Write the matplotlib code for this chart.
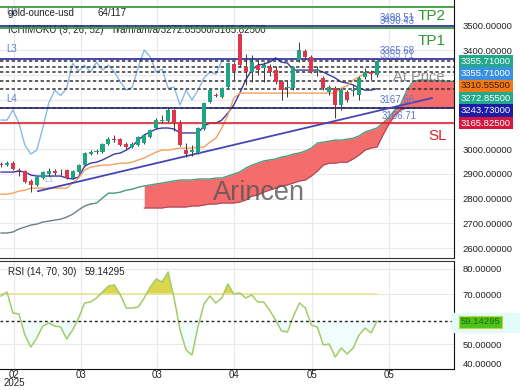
import matplotlib
matplotlib.use("Agg")
import matplotlib.pyplot as plt
from matplotlib.patches import Rectangle
import numpy as np

plt.rcParams['font.family'] = ['Liberation Sans', 'DejaVu Sans']

# daily candles (price units)
opens = [2939, 2935, 2943, 2915, 2911, 2871, 2855, 2883, 2899, 2911, 2907, 2915, 2883, 2907, 2935, 2980,
         2988, 2988, 3020, 3040, 3040, 3020, 3008, 3016, 3024, 3048, 3085, 3113, 3113, 3158, 3105, 2996,
         2988, 2984, 3081, 3190, 3218, 3210, 3250, 3343, 3465, 3331, 3311, 3339, 3327, 3331, 3319, 3271,
         3246, 3246, 3360, 3396, 3372, 3315, 3287, 3230, 3246, 3178, 3230, 3234, 3218, 3291, 3311, 3299]
highs = [2947, 2952, 2952, 2923, 2915, 2879, 2891, 2911, 2923, 2919, 2919, 2919, 2915, 2939, 2988, 2996,
         3000, 3024, 3048, 3057, 3044, 3028, 3028, 3053, 3061, 3081, 3125, 3137, 3166, 3162, 3117, 3024,
         3016, 3089, 3190, 3242, 3226, 3250, 3351, 3351, 3469, 3384, 3380, 3360, 3351, 3343, 3335, 3279,
         3279, 3335, 3432, 3404, 3380, 3335, 3295, 3259, 3255, 3246, 3238, 3259, 3295, 3327, 3319, 3356]
lows = [2927, 2931, 2915, 2891, 2863, 2826, 2851, 2879, 2891, 2895, 2895, 2879, 2879, 2903, 2931, 2976,
        2980, 2984, 3016, 3028, 3012, 3000, 3004, 3012, 3020, 3044, 3081, 3105, 3109, 3073, 3012, 2968,
        2972, 2980, 3077, 3186, 3210, 3206, 3246, 3279, 3331, 3259, 3271, 3299, 3271, 3295, 3263, 3198,
        3210, 3238, 3351, 3360, 3307, 3295, 3238, 3218, 3125, 3158, 3190, 3214, 3198, 3283, 3279, 3291]
closes = [2935, 2943, 2919, 2911, 2867, 2855, 2887, 2907, 2911, 2903, 2906, 2883, 2911, 2935, 2984, 2988,
          2992, 3020, 3040, 3036, 3016, 3008, 3020, 3048, 3057, 3077, 3117, 3117, 3158, 3105, 3016, 2980,
          2996, 3085, 3186, 3238, 3216, 3246, 3347, 3315, 3339, 3311, 3351, 3319, 3339, 3311, 3271, 3238,
          3250, 3331, 3400, 3372, 3311, 3323, 3246, 3250, 3178, 3238, 3198, 3238, 3287, 3311, 3303, 3355.71]

# ichimoku lines
tenkan = [2907, 2907, 2907, 2911, 2907, 2895, 2891, 2891, 2891, 2891, 2891, 2883, 2879, 2887, 2931, 2943,
          2947, 2956, 2968, 2980, 2984, 2996, 3012, 3036, 3057, 3069, 3081, 3085, 3085, 3081, 3065, 3065,
          3065, 3065, 3093, 3105, 3105, 3117, 3145, 3178, 3226, 3279, 3319, 3339, 3343, 3351, 3368, 3351,
          3347, 3319, 3319, 3319, 3319, 3319, 3311, 3299, 3287, 3271, 3267, 3259, 3246, 3238, 3238, 3243.73]
kijun = [2818, 2818, 2822, 2830, 2834, 2842, 2842, 2842, 2842, 2842, 2842, 2842, 2863, 2883, 2915, 2927,
         2931, 2935, 2935, 2939, 2943, 2943, 2947, 2956, 2964, 2976, 2988, 2996, 2996, 3000, 3004, 3004,
         3004, 3008, 3008, 3028, 3044, 3085, 3137, 3206, 3226, 3226, 3226, 3226, 3226, 3226, 3226, 3226,
         3226, 3226, 3226, 3226, 3226, 3226, 3226, 3226, 3226, 3246, 3255, 3279, 3291, 3305, 3310, 3310.555]
span_a = [2661, 2661, 2665, 2677, 2685, 2693, 2697, 2705, 2709, 2713, 2717, 2725, 2737, 2754, 2770, 2778,
          2782, 2802, 2822, 2822, 2826, 2834, 2838, 2846, 2851, 2855, 2859, 2863, 2867, 2871, 2875, 2875,
          2875, 2879, 2879, 2879, 2883, 2883, 2891, 2899, 2907, 2923, 2935, 2943, 2952, 2956, 2960, 2968,
          2972, 2980, 2984, 2992, 3004, 3024, 3028, 3032, 3036, 3036, 3040, 3044, 3053, 3069, 3077, 3085,
          3105, 3129, 3158, 3182, 3238, 3271, 3279, 3279, 3278, 3276, 3275, 3274, 3272.855]
span_b_start = 24
span_b = [2762, 2762, 2762, 2762, 2766, 2766, 2766, 2766, 2770, 2770, 2774, 2778, 2778, 2782, 2782, 2782,
          2786, 2794, 2810, 2814, 2826, 2834, 2842, 2851, 2855, 2863, 2871, 2875, 2891, 2911, 2935, 2943,
          2943, 2947, 2947, 2960, 2976, 2996, 3004, 3008, 3057, 3101, 3137, 3158, 3166, 3166, 3166, 3166,
          3166, 3166, 3166, 3166, 3165.825]

rsi = [69.2, 70.8, 62.4, 62.0, 53.6, 48.8, 52.4, 57.2, 58.4, 57.2, 56.8, 52.0, 55.6, 60.4, 66.4, 66.8,
       68.4, 70.8, 73.2, 73.6, 69.6, 64.4, 64.4, 64.8, 68.4, 72.8, 76.0, 74.8, 78.8, 68.4, 55.6, 47.6,
       45.6, 56.8, 66.0, 69.2, 66.4, 68.4, 74.0, 70.0, 70.4, 68.4, 69.6, 66.8, 66.8, 63.6, 59.6, 55.2,
       54.8, 61.2, 66.4, 64.4, 57.6, 56.8, 49.6, 50.0, 44.8, 48.4, 46.0, 48.4, 53.6, 56.4, 54.4, 59.14295]

# horizontal levels
navy_levels = [3498.51, 3365.68, 3167.56]
navy_labels = ['3498.51', '3365.68', '3167.56']
green_levels = [3575.0, 3490.43]
dashed_levels = [3355.71, 3331.0, 3310.555, 3272.855, 3243.73, 3165.825]
sl_level = 3106.71
trend_x = [6.2, 72.2]
trend_y = [2830, 3206]

tick_pos = [2.2, 13.4, 26.1, 39.0, 52.1, 65.0]
tick_labels = ['02', '03', '03', '04', '05', '05']
year_label = '2025'
price_ticks = [2600, 2700, 2800, 2900, 3000, 3100, 3200, 3300, 3400, 3500]
hidden_ticks = [3100, 3200, 3300]
rsi_ticks = [40, 50, 70, 80]

box_values = ['3355.71000', '3355.71000', '3310.55500', '3272.85500', '3243.73000', '3165.82500']
box_colors = ['#22a88a', '#3b8fe0', '#f07a1a', '#22a88a', '#1c1ca8', '#d5173f']
box_text = ['white', 'white', '#3a1a00', 'white', 'white', 'white']

TEAL = '#1fa582'
RED = '#e1354b'
NAVY = '#25259e'
BLUE_TXT = '#5a78d2'

W, H = 520, 390


def fx(x):
    return x / W


def fy(y):
    return 1 - y / H


fig = plt.figure(figsize=(5.2, 3.9), dpi=100)
ax = fig.add_axes([0, fy(258), fx(454), 258 / H])
rax = fig.add_axes([0, fy(369), fx(454), (369 - 261) / H], sharex=ax)

idx = np.arange(len(closes))
o = np.array(opens, dtype=float)
c = np.array(closes, dtype=float)

# header texts sit under the level lines
hdr = dict(transform=fig.transFigure, fontsize=7, va='center', zorder=2.5, clip_on=False)
ax.text(fx(6), fy(11), 'L0', color=BLUE_TXT, **hdr)
ax.text(fx(8), fy(13), 'gold-ounce-usd', color='#222222', **hdr)
ax.text(fx(97), fy(13), '64/117', color='#222222', **hdr)
ax.text(fx(8), fy(30), 'ICHIMOKU (9, 26, 52)', color='#222222', **hdr)
ax.text(fx(112), fy(30), 'n/a/n/a/n/a/3272.85500/3165.82500', color='#222222', **hdr)
ax.text(fx(6), fy(49), 'L3', color=BLUE_TXT, **hdr)
ax.text(fx(6), fy(99), 'L4', color=BLUE_TXT, **hdr)

# cloud
sa = np.array(span_a, dtype=float)
ax_a = np.arange(len(sa))
ax_b = np.arange(span_b_start, span_b_start + len(span_b))
ax.fill_between(ax_b, sa[span_b_start:], span_b, color='#f46c6c', lw=0, zorder=1)
ax.plot(ax_a[:16], sa[:16], color='#6f7f88', lw=1, zorder=2)
ax.plot(ax_a[15:], sa[15:], color='#4c9a7a', lw=1, zorder=2)
ax.plot(ax_b, span_b, color='#a9485a', lw=0.8, zorder=2)

# ichimoku lines
ax.plot(idx[:len(closes) - 26], c[26:], color='#8ab9e8', lw=1, zorder=3)
ax.plot(idx, tenkan, color='#3a3aa6', lw=1, zorder=3)
ax.plot(idx, kijun, color='#f4a062', lw=1, zorder=3)

# levels
for lv in green_levels:
    ax.axhline(lv, color='#3c9a3c', lw=1.3, zorder=3)
for lv in navy_levels:
    ax.axhline(lv, color=NAVY, lw=1.2, zorder=3)
for lv in dashed_levels:
    ax.axhline(lv, color='#333333', lw=1.1, ls=(0, (2.2, 1.6)), zorder=3)
ax.axhline(sl_level, color='#d8232a', lw=1.2, zorder=3)
ax.plot(trend_x, trend_y, color='#4545b5', lw=1.3, zorder=3)

# candles
ax.vlines(idx, lows, highs, color='#3a3a3a', lw=0.7, zorder=4)
body_lo = np.minimum(o, c)
body_h = np.maximum(np.abs(c - o), 2.5)
ax.bar(idx, body_h, bottom=body_lo, width=0.68,
       color=np.where(c >= o, TEAL, RED), lw=0, zorder=5)

for lv, lab in zip(navy_levels, navy_labels):
    ax.text(63.5, lv + 10, lab, color=BLUE_TXT, fontsize=7, va='bottom', zorder=6)
ax.text(63.5, 3490.43 + 6, '3490.43', color=BLUE_TXT, fontsize=7, va='bottom', zorder=6)
ax.text(63.5, 3355.71 + 3, '3355.71', color=BLUE_TXT, fontsize=7, va='bottom', alpha=0.7, zorder=6)
ax.text(63.8, sl_level + 8, '3106.71', color=BLUE_TXT, fontsize=7, va='bottom', zorder=6)

ax.set_xlim(-0.17, 75.9)
ax.set_ylim(2560, 3602)
ax.set_yticks(price_ticks)
ax.set_yticklabels(['' if v in hidden_ticks else f'{v:.5f}' for v in price_ticks])
ax.yaxis.tick_right()
ax.tick_params(axis='y', length=0, pad=6, labelsize=6.8, labelcolor='#222222')
ax.tick_params(axis='x', length=0, labelbottom=False)
ax.set_xticks(tick_pos)
ax.grid(color='#e9e9e9', lw=0.8)
ax.set_axisbelow(True)
for s in ['left', 'top']:
    ax.spines[s].set_visible(False)
ax.spines['right'].set_color('#111111')
ax.spines['bottom'].set_color('#333333')

# rsi panel
r = np.array(rsi)
rax.plot(idx, r, color='#a2cc68', lw=1.1, zorder=3)
rax.fill_between(idx, r, 70, where=r >= 70, interpolate=True, color='#d8d23c', alpha=0.9, lw=0, zorder=2)
rax.fill_between(idx, r, rsi[-1], where=r < rsi[-1], interpolate=True, color='#f1fdfd', lw=0, zorder=1)
rax.hlines(70, -0.17, idx[-1], color='#ebe196', lw=1.2, zorder=2)
rax.axhline(rsi[-1], color='#222222', lw=1, ls=(0, (2, 2)), zorder=3)
rax.set_ylim(40, 83.2)
rax.set_yticks(rsi_ticks)
rax.set_yticklabels([f'{v:.5f}' for v in rsi_ticks])
rax.yaxis.tick_right()
rax.tick_params(axis='y', length=0, pad=6, labelsize=6.8, labelcolor='#222222')
rax.yaxis.get_major_ticks()[0].label2.set_va('bottom')
rax.set_xticks(tick_pos)
rax.set_xticklabels(tick_labels)
rax.tick_params(axis='x', length=0, pad=1, labelsize=7, labelcolor='#222222')
rax.grid(color='#e9e9e9', lw=0.8)
rax.set_axisbelow(True)
rax.spines['left'].set_visible(False)
for s in ['right', 'bottom']:
    rax.spines[s].set_color('#111111')
rax.spines['top'].set_color('#333333')

fig.text(fx(14), fy(383), year_label, color='#222222', fontsize=7, va='center', ha='center')

# overlay texts
fig.text(fx(44), fy(181), 'L1', color='#9ab8e8', fontsize=6, va='center')
fig.text(fx(418), fy(16), 'TP2', color='#2e9a2e', fontsize=11, va='center')
fig.text(fx(418), fy(41), 'TP1', color='#2e9a2e', fontsize=11, va='center')
fig.text(fx(428), fy(136), 'SL', color='#d8232a', fontsize=11, va='center')
fig.text(fx(393), fy(77), 'At Price', color='#7a7a7a', fontsize=10.5, va='center', alpha=0.85)
fig.text(fx(259), fy(193), 'Arincen', color='#555555', fontsize=19.5, va='center', ha='center',
         alpha=0.8)
fig.text(fx(8), fy(272), 'RSI (14, 70, 30)', color='#222222', fontsize=7, va='center')
fig.text(fx(85), fy(272), '59.14295', color='#222222', fontsize=7, va='center')

# price boxes on the right axis
for k, (val, col, tc) in enumerate(zip(box_values, box_colors, box_text)):
    fig.text(fx(461), fy(61 + k * 12.4), val, color=tc, fontsize=6.8, va='center',
             bbox=dict(boxstyle='square,pad=0.18', fc=col, ec='none'))

fig.patches.append(Rectangle((fx(452), fy(332)), fx(68), 19 / H, transform=fig.transFigure,
                             color='#e2fbfb', zorder=0))
fig.text(fx(461), fy(322), '59.14295', color='#1d6b12', fontsize=6.8, va='center',
         bbox=dict(boxstyle='square,pad=0.18', fc='#4cc21c', ec='#c8d040', lw=0.8))

fig.savefig('out.png', dpi=100)
